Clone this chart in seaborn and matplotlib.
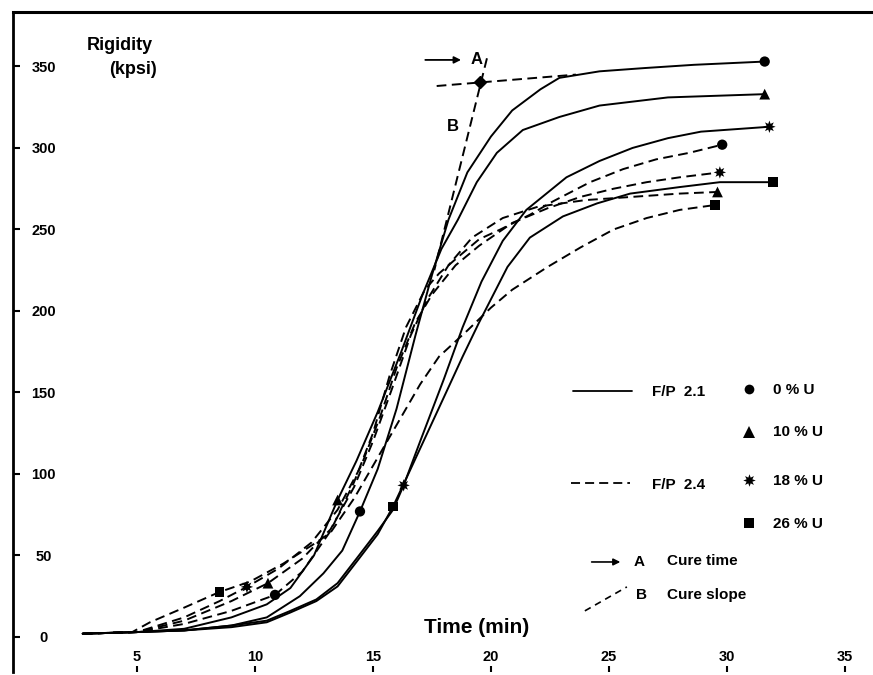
import pandas as pd
import matplotlib
matplotlib.use('Agg')
import matplotlib.pyplot as plt
import seaborn as sns

#-------------------------------------------------------------------------
# Values (time in min, rigidity in kpsi)

# F/P 2.1 (solid lines)
t_s0 = [2.7, 5, 7, 9, 10.5, 11.9, 12.9, 13.7, 14.45, 15.2, 16.0, 16.8, 17.5, 18.2, 19.0, 20.0, 20.9, 22.1, 22.9, 24.6, 26.5, 28.6, 31.6]
v_s0 = [2, 3, 4, 7, 12, 25, 39, 53, 77, 103, 140, 185, 222, 256, 285, 307, 323, 336, 343, 347, 349, 351, 353]

t_s10 = [2.7, 5, 7, 9, 10.5, 11.5, 12.5, 13.5, 14.3, 15.2, 16.2, 17.1, 17.9, 18.6, 19.4, 20.25, 21.35, 22.9, 24.6, 27.5, 31.6]
v_s10 = [2, 3, 5, 12, 20, 30, 50, 84, 108, 138, 175, 210, 238, 256, 279, 297, 311, 319, 326, 331, 333]

t_s18 = [2.7, 5, 7, 9, 10.5, 11.5, 12.6, 13.5, 14.3, 15.2, 15.85, 16.3, 17.0, 18.0, 18.8, 19.6, 20.5, 21.5, 23.2, 24.6, 26.0, 27.5, 28.9, 31.8]
v_s18 = [2, 3, 4, 7, 10, 16, 23, 33, 48, 65, 78, 93, 120, 158, 190, 218, 243, 262, 282, 292, 300, 306, 310, 313]

t_s26 = [2.7, 5, 7, 9, 10.5, 11.5, 12.6, 13.5, 14.3, 15.2, 15.85, 16.5, 17.3, 18.1, 18.8, 19.5, 20.7, 21.65, 23.05, 24.5, 25.9, 28.0, 29.7, 31.95]
v_s26 = [2, 3, 4, 6, 9, 15, 22, 31, 46, 63, 80, 100, 125, 150, 172, 193, 227, 245, 258, 266, 272, 276, 279, 279]

# F/P 2.4 (dashed lines)
t_d0 = [2.7, 5, 7, 9, 10.85, 12.0, 13.2, 14.2, 15.0, 15.7, 16.4, 17.2, 17.8, 18.6, 19.5, 20.4, 21.65, 22.6, 24.2, 25.6, 27.0, 28.4, 29.8]
v_d0 = [2, 3, 8, 16, 25.8, 40, 65, 95, 125, 160, 190, 213, 223, 233, 244, 250, 259, 267, 279, 287, 293, 297, 302]

t_d10 = [2.7, 5, 7, 9, 10.55, 12.0, 13.2, 14.2, 15.0, 15.8, 16.6, 17.3, 18.2, 19.2, 20.5, 22.0, 24.0, 26.0, 28.0, 29.6]
v_d10 = [2, 3, 10, 22, 33, 48, 66, 92, 120, 152, 185, 207, 228, 245, 257, 264, 268, 270, 272, 273]

t_d18 = [2.7, 5, 7, 8.5, 9.66, 11.0, 12.4, 13.5, 14.5, 15.3, 16.0, 16.8, 17.5, 18.5, 19.5, 20.9, 22.4, 23.8, 25.2, 26.6, 28.0, 29.7]
v_d18 = [2, 3, 12, 22, 30.7, 42, 58, 78, 105, 135, 165, 193, 210, 228, 240, 254, 263, 270, 275, 279, 282, 285]

t_d26 = [2.7, 4.8, 5.55, 7, 8.5, 9.8, 11.2, 12.6, 13.2, 14.2, 15.2, 16.2, 17.0, 17.8, 19.0, 20.0, 20.9, 22.4, 23.8, 25.2, 26.6, 28.0, 29.5]
v_d26 = [2, 3, 9, 18, 27.6, 34, 45, 58, 64, 85, 110, 135, 155, 172, 188, 202, 213, 227, 239, 250, 257, 262, 265]

# intermediate markers on each curve
mid_t = [14.45, 13.5, 16.3, 15.85, 10.85, 10.55, 9.66, 8.5]
mid_v = [77, 84, 93, 80, 25.8, 33, 30.7, 27.6]

curve_fp = ['F/P 2.1'] * 4 + ['F/P 2.4'] * 4
curve_u = ['0 % U', '10 % U', '18 % U', '26 % U'] * 2

# cure time / cure slope construction
plateau_t = [17.7, 23.6]
plateau_v = [338, 345]
slope_t = [19.83, 17.6]
slope_v = [355, 225]
cure_t = 19.53
cure_v = 340.5

y_ticks = [0, 50, 100, 150, 200, 250, 300, 350]
x_ticks = [5, 10, 15, 20, 25, 30, 35]

DASH = (5, 2.8)

#-------------------------------------------------------------------------

def main():
    sns.set_style('white')
    plt.rcParams['font.family'] = ['Liberation Sans', 'DejaVu Sans']
    plt.rcParams['text.color'] = 'black'

    all_t = [t_s0, t_s10, t_s18, t_s26, t_d0, t_d10, t_d18, t_d26]
    all_v = [v_s0, v_s10, v_s18, v_s26, v_d0, v_d10, v_d18, v_d26]

    rows = []
    for i, (ts, vs) in enumerate(zip(all_t, all_v)):
        for t, v in zip(ts, vs):
            rows.append({'curve': i, 'time': t, 'rigidity': v,
                         'fp': curve_fp[i], 'u': curve_u[i]})
    df = pd.DataFrame(rows)

    ends = df.groupby('curve').tail(1)
    mids = pd.DataFrame({'time': mid_t, 'rigidity': mid_v, 'u': curve_u})

    markers = {'0 % U': 'o', '10 % U': '^', '18 % U': (8, 1, 0), '26 % U': 's'}
    sizes = {'0 % U': 55, '10 % U': 60, '18 % U': 80, '26 % U': 50}

    fig = plt.figure(figsize=(8.73, 6.75), dpi=100)
    ax = fig.add_axes([13 / 873, 3 / 675, 860 / 873, 660 / 675])

    sns.lineplot(data=df, x='time', y='rigidity', units='curve', estimator=None,
                 style='fp', dashes={'F/P 2.1': '', 'F/P 2.4': DASH},
                 color='black', lw=1.4, sort=False, legend=False, ax=ax)
    sns.scatterplot(data=ends, x='time', y='rigidity', style='u', markers=markers,
                    size='u', sizes=sizes, color='black', linewidth=0,
                    legend=False, ax=ax)
    sns.scatterplot(data=mids, x='time', y='rigidity', style='u', markers=markers,
                    size='u', sizes=sizes, color='black', linewidth=0,
                    legend=False, ax=ax)

    # cure time (A) and cure slope (B) construction
    ax.plot(plateau_t, plateau_v, color='black', lw=1.4, dashes=DASH)
    ax.plot(slope_t, slope_v, color='black', lw=1.4, dashes=DASH)
    ax.plot([cure_t], [cure_v], marker='D', color='black', ms=6)
    ax.annotate('', xy=(18.85, 354), xytext=(17.1, 354),
                arrowprops=dict(arrowstyle='-|>', color='black', lw=1.3))
    ax.text(19.4, 354, 'A', fontsize=12, fontweight='bold', ha='center', va='center')
    ax.text(18.4, 313, 'B', fontsize=12, fontweight='bold', ha='center', va='center')

    # axis titles
    ax.text(4.28, 363, 'Rigidity', fontsize=13, fontweight='bold', ha='center', va='center')
    ax.text(4.85, 348, '(kpsi)', fontsize=13, fontweight='bold', ha='center', va='center')
    ax.text(19.4, 6, 'Time (min)', fontsize=15, fontweight='bold', ha='center', va='center')

    # legend block
    fs = 11
    ax.plot([23.47, 25.97], [150.9, 150.9], color='black', lw=1.3)
    ax.text(26.82, 150.3, 'F/P  2.1', fontsize=fs, fontweight='bold', va='center')
    ax.plot([23.39, 25.89], [94.5, 94.5], color='black', lw=1.3, dashes=DASH)
    ax.text(26.82, 93.3, 'F/P  2.4', fontsize=fs, fontweight='bold', va='center')
    leg_y = [151.5, 125.5, 95.7, 69.3]
    leg_ms = [7, 8, 9, 7]
    for u, y, m in zip(curve_u[:4], leg_y, leg_ms):
        ax.plot([30.95], [y + 0.5], marker=markers[u], color='black', ms=m, mew=0, ls='none')
        ax.text(31.95, y, u, fontsize=fs, fontweight='bold', va='center')
    ax.annotate('', xy=(25.6, 46.0), xytext=(24.15, 46.0),
                arrowprops=dict(arrowstyle='-|>', color='black', lw=1.2))
    ax.text(26.3, 46.0, 'A', fontsize=fs, fontweight='bold', ha='center', va='center')
    ax.text(27.46, 46.6, 'Cure time', fontsize=fs, fontweight='bold', va='center')
    ax.plot([23.98, 25.76], [16.0, 30.7], color='black', lw=1.2, dashes=(4, 3))
    ax.text(26.4, 25.8, 'B', fontsize=fs, fontweight='bold', ha='center', va='center')
    ax.text(27.46, 25.8, 'Cure slope', fontsize=fs, fontweight='bold', va='center')

    # axes styling
    ax.set_xlim(-0.254, 36.19)
    ax.set_ylim(-21.5, 383.4)
    ax.set_xlabel('')
    ax.set_ylabel('')
    ax.spines['right'].set_visible(False)
    ax.spines['bottom'].set_visible(False)
    ax.spines['top'].set_linewidth(2.2)
    ax.spines['left'].set_linewidth(2.0)
    for s in ['top', 'left']:
        ax.spines[s].set_color('black')

    ax.set_yticks(y_ticks)
    ax.set_xticks(x_ticks)
    ax.tick_params(axis='y', direction='in', length=5, width=1.5, pad=-22,
                   labelsize=10.5, colors='black', left=True)
    ax.tick_params(axis='x', direction='in', length=4, width=1.5, pad=-16,
                   labelsize=10.5, colors='black', bottom=True)
    for lab in ax.get_yticklabels():
        lab.set_fontweight('bold')
        lab.set_horizontalalignment('center')
    for lab in ax.get_xticklabels():
        lab.set_fontweight('bold')

    fig.savefig('out.png', dpi=100)


if __name__ == '__main__':
    main()
